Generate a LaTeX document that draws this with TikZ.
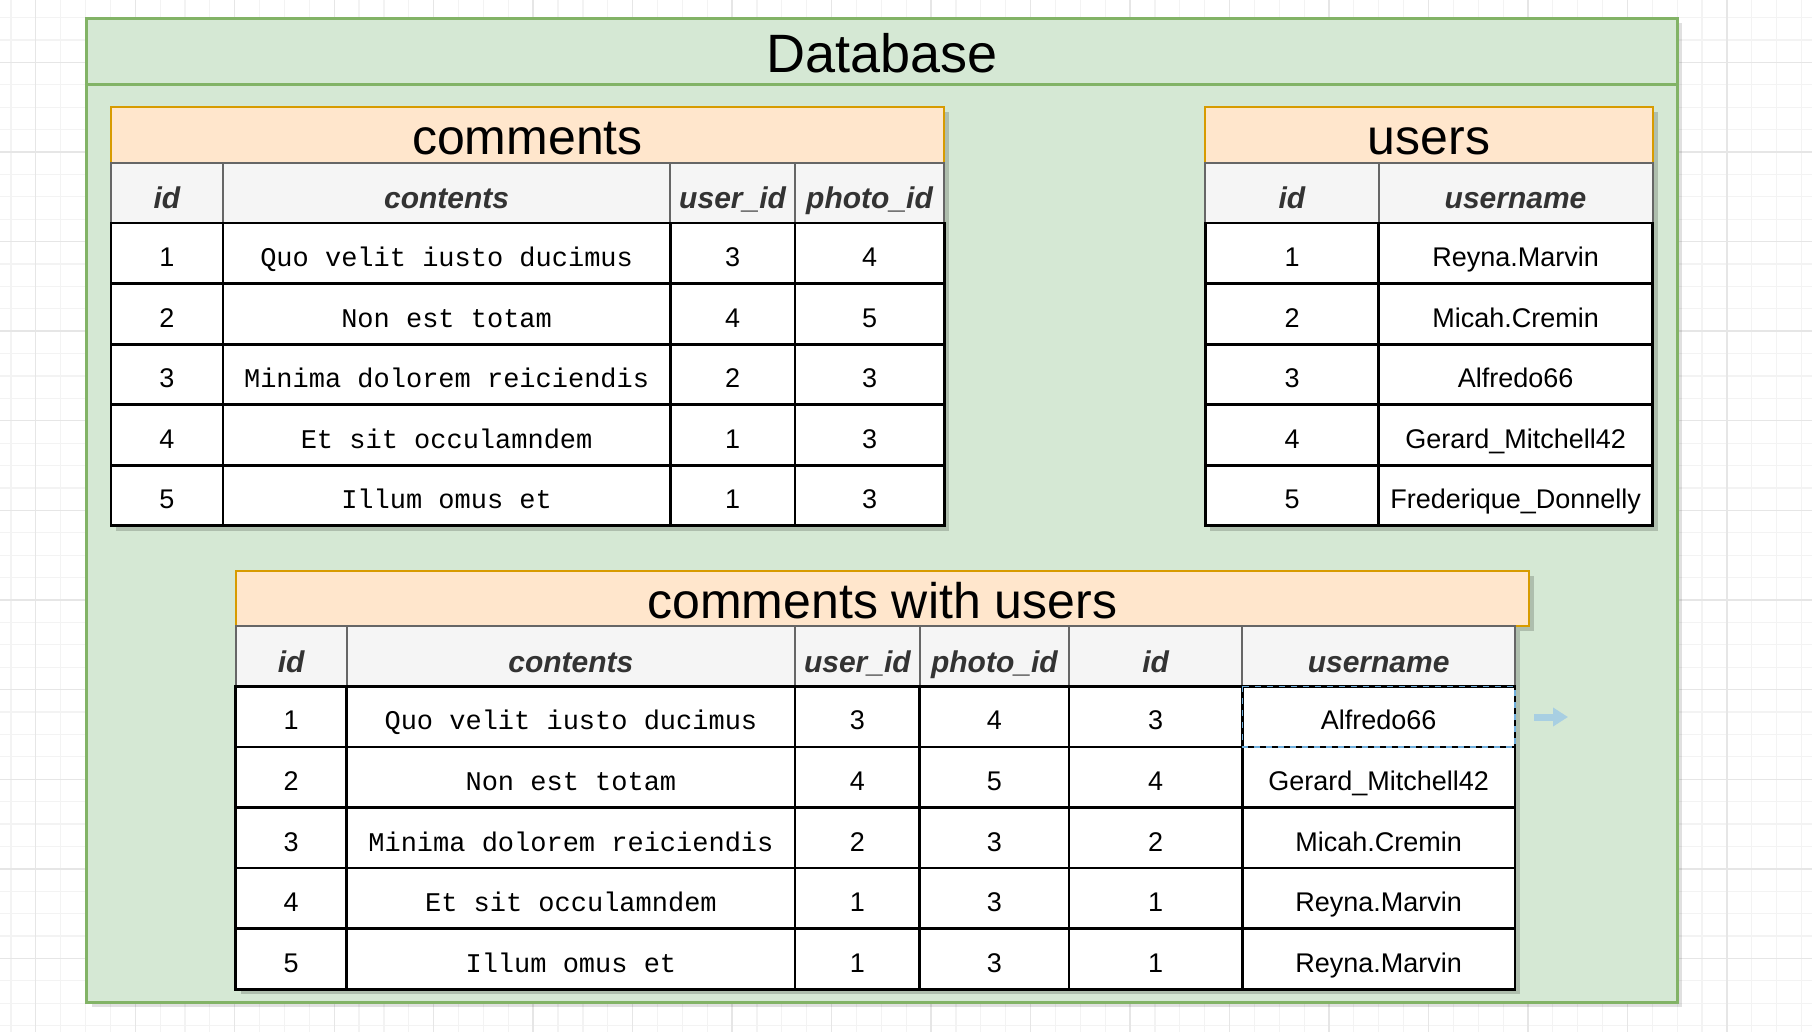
\documentclass[tikz,border=0pt]{standalone}
\usepackage{fontspec}
\setmainfont{Liberation Sans}
\setmonofont{Liberation Mono}
\usetikzlibrary{arrows.meta}

\definecolor{dbfill}{HTML}{D5E8D4}
\definecolor{dbdraw}{HTML}{82B366}
\definecolor{titlefill}{HTML}{FFE6CC}
\definecolor{titledraw}{HTML}{D79B00}
\definecolor{headfill}{HTML}{F5F5F5}
\definecolor{headdraw}{HTML}{666666}
\definecolor{headink}{HTML}{333333}
\definecolor{gridminor}{HTML}{F3F3F3}
\definecolor{gridmajor}{HTML}{E6E6E6}
\definecolor{selblue}{HTML}{6FAEDC}
\definecolor{hoverblue}{HTML}{A8CFE2}

\tikzset{
	shadowbox/.style={fill=black, fill opacity=0.18, draw=none},
	titlebox/.style={fill=titlefill, draw=titledraw, line width=1pt},
	headbox/.style={fill=headfill, draw=headdraw, line width=1pt},
	cellbox/.style={fill=white, draw=black, line width=1.4pt},
	titlelabel/.style={anchor=base, inner sep=0pt, font=\fontsize{25}{30}\selectfont},
	headlabel/.style={anchor=base, inner sep=0pt, text=headink, font=\fontsize{15}{18}\selectfont\bfseries\itshape},
	cellsans/.style={anchor=base, inner sep=0pt, font=\fontsize{13.5}{16}\selectfont},
	cellmono/.style={anchor=base, inner sep=0pt, font=\fontsize{13.5}{16}\selectfont\ttfamily}
}

\begin{document}
\begin{tikzpicture}[x=0.5pt, y=-0.5pt]
	\useasboundingbox (0,0) rectangle (1812,1032);
	% Hintergrund mit Raster
	\fill[white] (0,0) rectangle (1812,1032);
	\foreach \k in {0,...,72}
		\draw[gridminor, line width=0.6pt] ({10.9+24.87*\k},0) -- ({10.9+24.87*\k},1032);
	\foreach \k in {-1,...,45}
		\draw[gridminor, line width=0.6pt] (0,{17.6+22.4*\k}) -- (1812,{17.6+22.4*\k});
	\foreach \k in {1,5,...,69}
		\draw[gridmajor, line width=0.7pt] ({10.9+24.87*\k},0) -- ({10.9+24.87*\k},1032);
	\foreach \k in {-2,2,...,42}
		\draw[gridmajor, line width=0.7pt] (0,{17.6+22.4*\k}) -- (1812,{17.6+22.4*\k});

	% Rahmen Database
	\fill[shadowbox, fill opacity=0.12] (91.7,23.5) rectangle (1682,1007);
	\filldraw[fill=dbfill, draw=dbdraw, line width=1.5pt] (86.7,18.5) rectangle (1677,1002);
	\draw[dbdraw, line width=1.5pt] (86.7,84.4) -- (1677,84.4);
	\node[titlelabel, font=\fontsize{27}{32}\selectfont] (db) at (881.8,72.5) {Database};

	% Tabelle comments
	\fill[shadowbox] (115.9,112.5) rectangle (949.1,530.8);
	\filldraw[titlebox] (110.9,107.5) rectangle (944.1,162.9);
	\node[titlelabel] (comtitle) at (527.5,154.5) {comments};
	\foreach \xa/\xb/\txt [count=\i] in {110.9/223.0/id, 223.0/670.2/contents,
		670.2/795.0/user\_id, 795.0/944.1/photo\_id} {
		\filldraw[headbox] (\xa,162.9) rectangle (\xb,223.0);
		\node[headlabel] (comhead\i) at ({(\xa+\xb)/2},208.5) {\txt};
	}
	\foreach \a/\b/\c/\d [count=\r] in {1/Quo velit iusto ducimus/3/4,
		2/Non est totam/4/5, 3/Minima dolorem reiciendis/2/3,
		4/Et sit occulamndem/1/3, 5/Illum omus et/1/3} {
		\pgfmathsetmacro{\ya}{223.0+(\r-1)*60.56}
		\pgfmathsetmacro{\yb}{\ya+60.56}
		\pgfmathsetmacro{\yt}{\ya+43.5}
		\filldraw[cellbox] (110.9,\ya) rectangle (223.0,\yb);
		\node[cellsans] (com\r-1) at (167.0,\yt) {\a};
		\filldraw[cellbox] (223.0,\ya) rectangle (670.2,\yb);
		\node[cellmono] (com\r-2) at (446.6,\yt) {\b};
		\filldraw[cellbox] (670.2,\ya) rectangle (795.0,\yb);
		\node[cellsans] (com\r-3) at (732.6,\yt) {\c};
		\filldraw[cellbox] (795.0,\ya) rectangle (944.1,\yb);
		\node[cellsans] (com\r-4) at (869.6,\yt) {\d};
	}

	% Tabelle users
	\fill[shadowbox] (1210.3,112.5) rectangle (1657.5,530.8);
	\filldraw[titlebox] (1205.3,107.5) rectangle (1652.5,162.9);
	\node[titlelabel] (usrtitle) at (1428.9,154.5) {users};
	\foreach \xa/\xb/\txt [count=\i] in {1205.3/1378.6/id, 1378.6/1652.5/username} {
		\filldraw[headbox] (\xa,162.9) rectangle (\xb,223.0);
		\node[headlabel] (usrhead\i) at ({(\xa+\xb)/2},208.5) {\txt};
	}
	\foreach \a/\b [count=\r] in {1/Reyna.Marvin, 2/Micah.Cremin, 3/Alfredo66,
		4/Gerard\_Mitchell42, 5/Frederique\_Donnelly} {
		\pgfmathsetmacro{\ya}{223.0+(\r-1)*60.56}
		\pgfmathsetmacro{\yb}{\ya+60.56}
		\pgfmathsetmacro{\yt}{\ya+43.5}
		\filldraw[cellbox] (1205.3,\ya) rectangle (1378.6,\yb);
		\node[cellsans] (usr\r-1) at (1292.0,\yt) {\a};
		\filldraw[cellbox] (1378.6,\ya) rectangle (1652.5,\yb);
		\node[cellsans] (usr\r-2) at (1515.6,\yt) {\b};
	}

	% Tabelle comments with users
	\fill[shadowbox] (240.7,575.9) rectangle (1533.9,631.3);
	\fill[shadowbox] (240.7,631.3) rectangle (1520,994.2);
	\filldraw[titlebox] (235.7,570.9) rectangle (1528.9,626.3);
	\node[titlelabel] (joititle) at (882.3,618) {comments with users};
	\foreach \xa/\xb/\txt [count=\i] in {235.7/346.7/id, 346.7/795.0/contents,
		795.0/919.8/user\_id, 919.8/1068.9/photo\_id, 1068.9/1242.3/id,
		1242.3/1515.0/username} {
		\filldraw[headbox] (\xa,626.3) rectangle (\xb,686.4);
		\node[headlabel] (joihead\i) at ({(\xa+\xb)/2},672) {\txt};
	}
	\foreach \a/\b/\c/\d/\e/\f [count=\r] in {1/Quo velit iusto ducimus/3/4/3/Alfredo66,
		2/Non est totam/4/5/4/Gerard\_Mitchell42, 3/Minima dolorem reiciendis/2/3/2/Micah.Cremin,
		4/Et sit occulamndem/1/3/1/Reyna.Marvin, 5/Illum omus et/1/3/1/Reyna.Marvin} {
		\pgfmathsetmacro{\ya}{686.4+(\r-1)*60.56}
		\pgfmathsetmacro{\yb}{\ya+60.56}
		\pgfmathsetmacro{\yt}{\ya+43.5}
		\filldraw[cellbox] (235.7,\ya) rectangle (346.7,\yb);
		\node[cellsans] (joi\r-1) at (291.2,\yt) {\a};
		\filldraw[cellbox] (346.7,\ya) rectangle (795.0,\yb);
		\node[cellmono] (joi\r-2) at (570.9,\yt) {\b};
		\filldraw[cellbox] (795.0,\ya) rectangle (919.8,\yb);
		\node[cellsans] (joi\r-3) at (857.4,\yt) {\c};
		\filldraw[cellbox] (919.8,\ya) rectangle (1068.9,\yb);
		\node[cellsans] (joi\r-4) at (994.4,\yt) {\d};
		\filldraw[cellbox] (1068.9,\ya) rectangle (1242.3,\yb);
		\node[cellsans] (joi\r-5) at (1155.6,\yt) {\e};
		\filldraw[cellbox] (1242.3,\ya) rectangle (1515.0,\yb);
		\node[cellsans] (joi\r-6) at (1378.7,\yt) {\f};
	}

	% Auswahl
	\draw[selblue, dashed, line width=0.8pt] (1242.3,686.4) rectangle (1515.0,747.0);
	\coordinate (hoverA) at (1534,717);
	\coordinate (hoverB) at (1568,717);
	\draw[hoverblue, line width=3.5pt, -{Triangle[length=7.5pt, width=9pt]}] (hoverA) -- (hoverB);
\end{tikzpicture}
\end{document}
